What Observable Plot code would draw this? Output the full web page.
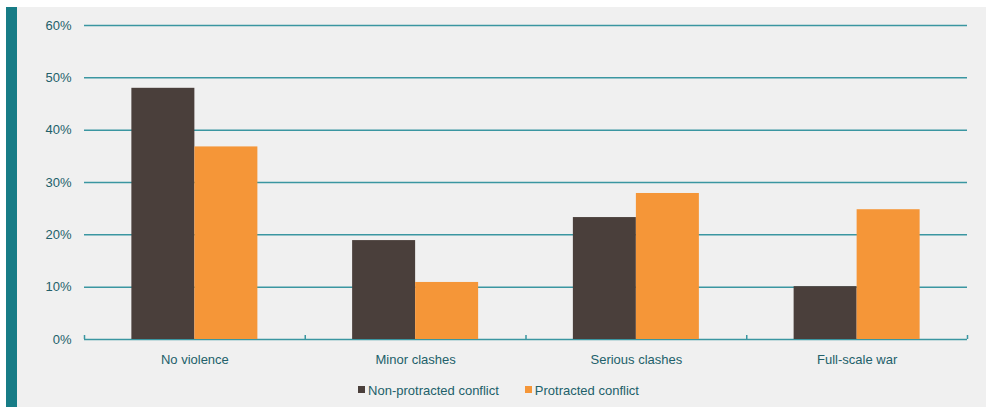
<!DOCTYPE html>
<html>
<head>
<meta charset="utf-8">
<script src="https://cdn.jsdelivr.net/npm/d3@7"></script>
<script src="https://cdn.jsdelivr.net/npm/@observablehq/plot@0.6"></script>
<style>
  html, body { margin: 0; padding: 0; background: #ffffff; }
  #panel {
    position: absolute; left: 6px; top: 7px; width: 980px; height: 400px;
    box-sizing: border-box; background: #f0f0f0; border-left: 11px solid #177c86;
    font-family: "Liberation Sans", Arial, sans-serif; color: #22606a;
  }
  #chart svg { display: block; }
  #legend {
    display: flex; justify-content: center; align-items: center; gap: 26px;
    margin-top: 5px; font-size: 13px; line-height: 18px; padding-right: 6px;
  }
  #legend .item { display: flex; align-items: center; gap: 3px; }
  #legend .swatch { width: 7px; height: 7px; display: inline-block; margin-top: -3px; }
</style>
</head>
<body>
<div id="panel">
  <div id="chart"></div>
  <div id="legend"></div>
</div>
<script>
// Share of outcomes by level of violence, split by conflict type (percent)
const categories = ["No violence", "Minor clashes", "Serious clashes", "Full-scale war"];
const seriesNames = ["Non-protracted conflict", "Protracted conflict"];
const nonProtracted = [48.0, 18.9, 23.3, 10.1];
const protracted = [36.8, 10.9, 27.9, 24.8];
const yTicks = [0, 10, 20, 30, 40, 50, 60];

const colors = ["#4a3f3b", "#f59638"];
const teal = "#3a96a1";
const textColor = "#22606a";
const barWidth = 0.2854; // fraction of a category slot taken by each bar

// One row per bar: category slot i spans [i, i + 1] on the x scale
const rows = [];
categories.forEach((c, i) => {
  rows.push({category: c, series: seriesNames[0], value: nonProtracted[i],
             x1: i + 0.5 - barWidth, x2: i + 0.5});
  rows.push({category: c, series: seriesNames[1], value: protracted[i],
             x1: i + 0.5, x2: i + 0.5 + barWidth});
});
const boundaries = d3.range(categories.length + 1);

const chart = Plot.plot({
  width: 969,
  height: 370,
  marginLeft: 67,
  marginRight: 19,
  marginTop: 18,
  marginBottom: 38,
  style: {background: "transparent", fontFamily: "Liberation Sans, Arial, sans-serif", fontSize: "13px", color: textColor},
  x: {type: "linear", domain: [0, categories.length], axis: null},
  y: {domain: [0, 60], ticks: yTicks, tickFormat: d => d + "%", tickSize: 0, tickPadding: 13, label: null},
  color: {domain: seriesNames, range: colors},
  marks: [
    Plot.ruleY(yTicks, {stroke: teal, strokeWidth: 1.5}),
    Plot.ruleX(boundaries, {stroke: teal, strokeWidth: 1.5, insetTop: 310}),
    Plot.rectY(rows, {x1: "x1", x2: "x2", y1: 0, y2: "value", fill: "series"}),
    Plot.text(categories, {x: (d, i) => i + 0.5, y: 0, dy: 20, text: d => d, fill: textColor, fontSize: 13})
  ]
});
document.getElementById("chart").append(chart);

const legend = document.getElementById("legend");
seriesNames.forEach((name, i) => {
  const item = document.createElement("div");
  item.className = "item";
  const sw = document.createElement("span");
  sw.className = "swatch";
  sw.style.background = colors[i];
  const label = document.createElement("span");
  label.textContent = name;
  item.append(sw, label);
  legend.append(item);
});
</script>
</body>
</html>
